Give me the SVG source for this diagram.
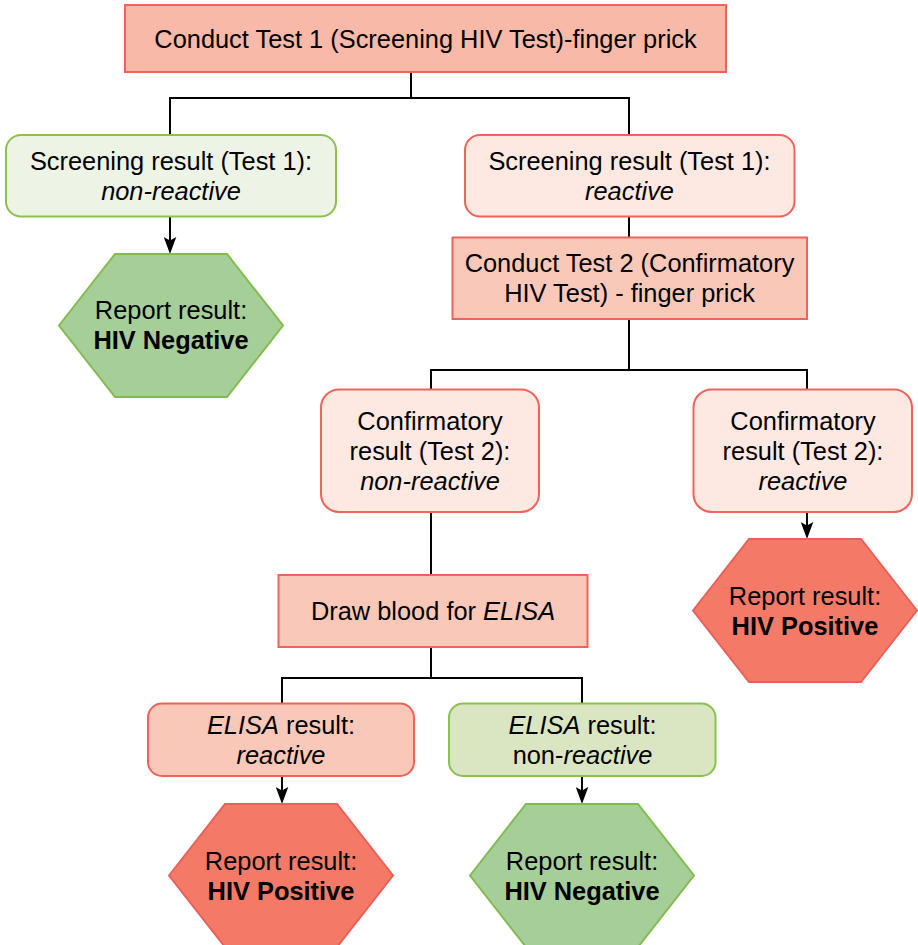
<svg xmlns="http://www.w3.org/2000/svg" width="918" height="945" viewBox="0 0 918 945">
<defs>
<style>
text{font-family:"Liberation Sans",Arial,sans-serif;font-size:25.4px;fill:#000;text-anchor:middle}
.i{font-style:italic}
.b{font-weight:bold}
.top{fill:#F9B9A8;stroke:#F0625A;stroke-width:2}
.mid{fill:#F9C8B9;stroke:#F0625A;stroke-width:2}
.pale{fill:#FDE9E2;stroke:#F0625A;stroke-width:2}
.pos{fill:#F47A67;stroke:#E9605A;stroke-width:2}
.gpale{fill:#EEF4E5;stroke:#8CC04F;stroke-width:2}
.gmid{fill:#DAE6C1;stroke:#8CC04F;stroke-width:2}
.neg{fill:#A5CE98;stroke:#82BC4E;stroke-width:2}
.ln{fill:none;stroke:#000;stroke-width:2}
</style>
<marker id="arr" markerUnits="userSpaceOnUse" markerWidth="18" markerHeight="13" refX="6" refY="6.5" orient="auto" viewBox="0 0 18 13">
<path d="M0,0.2 L17,6.5 L0,12.8 L3.5,6.5 Z" fill="#000"/>
</marker>
</defs>

<g id="connectors">
<path class="ln" d="M411,72 V98 H170 V135"/>
<path class="ln" d="M411,98 H629 V135"/>
<path class="ln" d="M170,217 V243" marker-end="url(#arr)"/>
<path class="ln" d="M629,217 V237"/>
<path class="ln" d="M629,319 V370 H431 V389"/>
<path class="ln" d="M629,370 H807 V389"/>
<path class="ln" d="M807,512 V528" marker-end="url(#arr)"/>
<path class="ln" d="M431,512 V575"/>
<path class="ln" d="M431,647 V678 H282 V703"/>
<path class="ln" d="M431,678 H582 V703"/>
<path class="ln" d="M282,776 V793" marker-end="url(#arr)"/>
<path class="ln" d="M582,776 V793" marker-end="url(#arr)"/>
</g>

<g id="test1">
<rect class="top" x="125" y="5" width="601" height="67"/>
<text x="425.5" y="47.5">Conduct Test 1 (Screening HIV Test)-finger prick</text>
</g>

<g id="screen-nonreactive">
<rect class="gpale" x="6" y="135" width="330" height="81.5" rx="15"/>
<text x="171" y="169.5">Screening result (Test 1):</text>
<text x="171" y="199.5" class="i">non-reactive</text>
</g>

<g id="negative1">
<polygon class="neg" points="59,325.5 115,254 227,254 283,325.5 227,397 115,397"/>
<text x="171" y="319">Report result:</text>
<text x="171" y="349" class="b">HIV Negative</text>
</g>

<g id="screen-reactive">
<rect class="pale" x="465" y="135" width="329.5" height="81.5" rx="15"/>
<text x="629.5" y="169.5">Screening result (Test 1):</text>
<text x="629.5" y="199.5" class="i">reactive</text>
</g>

<g id="test2">
<rect class="mid" x="452.5" y="237.5" width="354.5" height="81.5"/>
<text x="629.5" y="272">Conduct Test 2 (Confirmatory</text>
<text x="629.5" y="302">HIV Test) - finger prick</text>
</g>

<g id="conf-nonreactive">
<rect class="pale" x="321" y="389.5" width="218" height="122.5" rx="18"/>
<text x="430" y="429.5">Confirmatory</text>
<text x="430" y="459.5">result (Test 2):</text>
<text x="430" y="489.5" class="i">non-reactive</text>
</g>

<g id="conf-reactive">
<rect class="pale" x="693.5" y="389.5" width="218.5" height="122.5" rx="18"/>
<text x="803" y="429.5">Confirmatory</text>
<text x="803" y="459.5">result (Test 2):</text>
<text x="803" y="489.5" class="i">reactive</text>
</g>

<g id="positive1">
<polygon class="pos" points="693,610.5 749,539 861,539 917,610.5 861,682 749,682"/>
<text x="805" y="604.5">Report result:</text>
<text x="805" y="634.5" class="b">HIV Positive</text>
</g>

<g id="draw-blood">
<rect class="mid" x="278.5" y="575" width="309" height="72"/>
<text x="433" y="620">Draw blood for <tspan class="i">ELISA</tspan></text>
</g>

<g id="elisa-reactive">
<rect class="mid" x="148" y="703.5" width="266" height="72.5" rx="14"/>
<text x="281" y="733.5"><tspan class="i">ELISA</tspan> result:</text>
<text x="281" y="763.5" class="i">reactive</text>
</g>

<g id="elisa-nonreactive">
<rect class="gmid" x="449" y="703.5" width="266.5" height="72.5" rx="14"/>
<text x="582.5" y="733.5"><tspan class="i">ELISA</tspan> result:</text>
<text x="582.5" y="763.5">non-<tspan class="i">reactive</tspan></text>
</g>

<g id="positive2">
<polygon class="pos" points="169,875.5 225,804 337,804 393,875.5 337,947 225,947"/>
<text x="281" y="869.5">Report result:</text>
<text x="281" y="899.5" class="b">HIV Positive</text>
</g>

<g id="negative2">
<polygon class="neg" points="470,875.5 526,804 638,804 694,875.5 638,947 526,947"/>
<text x="582" y="869.5">Report result:</text>
<text x="582" y="899.5" class="b">HIV Negative</text>
</g>
</svg>
